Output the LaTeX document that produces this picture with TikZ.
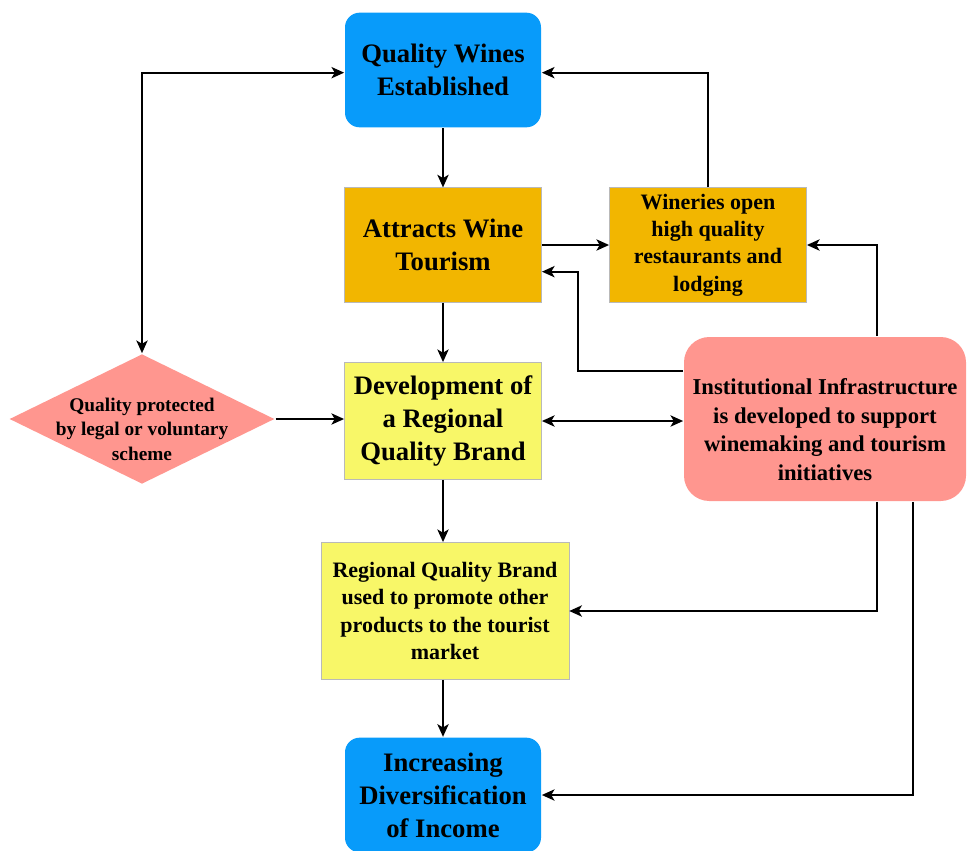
\documentclass[tikz,border=0pt]{standalone}
\usepackage{fontspec}
\setmainfont{Liberation Serif}
\usetikzlibrary{shapes.geometric,arrows.meta}

\definecolor{wineblue}{RGB}{8,155,250}
\definecolor{wineamber}{RGB}{242,182,0}
\definecolor{wineyellow}{RGB}{248,247,104}
\definecolor{winesalmon}{RGB}{255,150,143}

\begin{document}
\begin{tikzpicture}[x=0.75pt,y=-0.75pt,line width=1.3pt,
  >={Stealth[length=9.5pt,width=8.5pt,inset=2.5pt]},
  bigtext/.style={font=\bfseries\fontsize{20}{24.75}\selectfont},
  smalltext/.style={font=\bfseries\fontsize{16.5}{20.6}\selectfont},
  goal/.style={rounded corners=11pt,fill=wineblue,align=center,bigtext,
    minimum width=147pt,minimum height=86pt},
  tourbox/.style={draw=gray!55,thin,fill=wineamber,align=center,
    minimum width=148pt,minimum height=86pt},
  brandbox/.style={draw=gray!55,thin,fill=wineyellow,align=center}]
\useasboundingbox (0,0) rectangle (967,850);

% main column
\node[goal] (qw) at (443,70) {Quality Wines\\Established};
\node[tourbox,bigtext] (awt) at (443,245) {Attracts Wine\\Tourism};
\node[brandbox,bigtext,minimum width=148pt,minimum height=88pt] (dev) at (443,421)
  {Development of\\a Regional\\Quality Brand};
\node[brandbox,smalltext,minimum width=186pt,minimum height=103pt] (rqb) at (445,611)
  {Regional Quality Brand\\used to promote other\\products to the tourist\\market};
\node[goal] (inc) at (443,795) {Increasing\\Diversification\\of Income};

% side boxes
\node[tourbox,smalltext] (wo) at (708,245)
  {Wineries open\\high quality\\restaurants and\\lodging};
\node[diamond,fill=winesalmon,minimum width=199pt,minimum height=97.5pt,inner sep=0pt]
  (qp) at (142,419) {};
\node[align=center,font=\bfseries\fontsize{14.5}{18.4}\selectfont] (qptext)
  at ([yshift=-7.5pt]qp) {Quality protected\\by legal or voluntary\\scheme};
\node[rounded corners=19pt,fill=winesalmon,minimum width=211.5pt,minimum height=123pt]
  (inst) at (825,419) {};
\node[align=center,font=\bfseries\fontsize{17}{21.4}\selectfont] (insttext)
  at ([yshift=-8pt]inst)
  {Institutional Infrastructure\\is developed to support\\winemaking and tourism\\initiatives};

% connectors
\coordinate (turn) at ([xshift=27pt,yshift=-20pt]awt.east);
\draw[->] (qw) -- (awt);
\draw[->] (awt) -- (wo);
\draw[->] (wo.north) |- ([yshift=-2pt]qw.east);
\draw[->] ([xshift=39pt]inst.north) |- (wo.east);
\draw[->] ([yshift=36pt]inst.west) -| (turn) -- ([yshift=-20pt]awt.east);
\draw[<->] (qp.north) |- ([yshift=-2pt]qw.west);
\draw[->] (qp.east) -- (qp.east -| dev.west);
\draw[<->] (dev.east) -- (dev.east -| inst.west);
\draw[->] (awt) -- (dev);
\draw[->] (dev) -- (dev.south |- rqb.north);
\draw[->] (rqb.south -| dev.south) -- (dev.south |- inc.north);
\draw[->] ([xshift=39pt]inst.south) |- (rqb.east);
\draw[->] ([xshift=66pt]inst.south) |- (inc.east);
\end{tikzpicture}
\end{document}
